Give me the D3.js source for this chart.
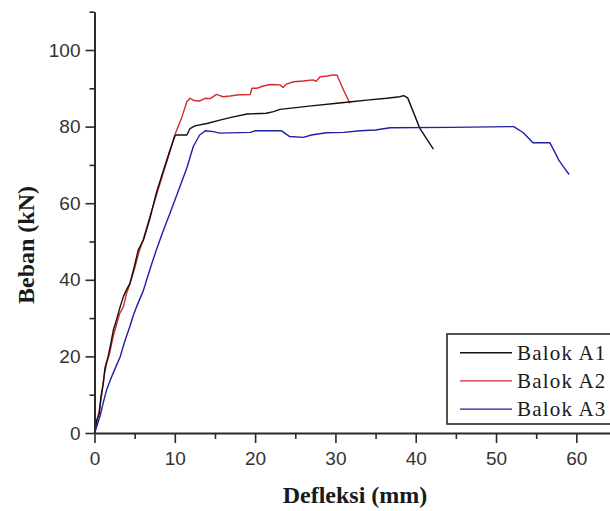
<!DOCTYPE html>
<html>
<head>
<meta charset="utf-8">
<script src="https://cdn.jsdelivr.net/npm/d3@7"></script>
<style>
  html, body { margin: 0; padding: 0; background: #fff; }
  svg { display: block; }
</style>
</head>
<body>
<svg id="chart" width="610" height="511"></svg>
<script>
// load-deflection curves: [deflection mm, load kN]
const balokA1 = [
  [0, 0], [0.3, 3.5], [0.6, 5], [0.8, 9.5], [1.1, 13], [1.3, 17], [1.7, 20], [2.0, 23],
  [2.35, 26.9], [2.8, 30], [3.2, 33], [3.6, 35.6], [4.0, 37.5], [4.4, 39], [4.9, 43],
  [5.45, 47.8], [6.1, 50.4], [6.9, 56], [7.7, 62.7], [8.5, 68], [9.4, 73.9], [10.0, 77.5],
  [10.2, 77.8], [11.5, 77.8], [11.9, 79.5], [12.5, 80.2], [14, 80.8], [15.6, 81.7], [17, 82.4],
  [19, 83.3], [21.4, 83.5], [22.3, 83.9], [23.1, 84.5], [24.8, 84.9], [27, 85.4], [30.2, 86.1],
  [32, 86.5], [33.9, 86.9], [36.4, 87.4], [38.0, 87.8], [38.5, 88.1], [39.0, 87.5],
  [40.5, 79.6], [41.3, 77], [42.2, 74.1]
];
const balokA2 = [
  [0, 0], [0.3, 3], [0.6, 6], [0.9, 10], [1.2, 15], [1.5, 18], [1.9, 21], [2.3, 25], [2.7, 28],
  [3.1, 31], [3.6, 33], [4.0, 36.5], [4.5, 39.5], [5.0, 43], [5.5, 47], [6.1, 50.8], [6.9, 56.5],
  [7.7, 62], [8.5, 67.5], [9.4, 73.5], [10.0, 77.8], [10.9, 82.6], [11.5, 86.5], [11.9, 87.4],
  [12.4, 86.8], [13.1, 86.7], [13.8, 87.4], [14.4, 87.3], [15.2, 88.4], [16.0, 87.8], [16.9, 88.0],
  [18, 88.3], [19.4, 88.4], [19.6, 90.0], [20.2, 90.0], [21.0, 90.6], [21.9, 91.0], [23.1, 90.9],
  [23.5, 90.2], [23.9, 91.1], [24.8, 91.7], [26, 91.9], [27.2, 92.2], [27.6, 91.8], [28.1, 93.0],
  [29.0, 93.2], [29.7, 93.5], [30.2, 93.4], [31.0, 89.6], [31.8, 86.1]
];
const balokA3 = [
  [0, 0], [0.27, 1.6], [0.7, 4.5], [1.1, 8], [1.5, 11.2], [2.0, 14], [2.6, 17], [3.2, 19.9],
  [3.7, 23.5], [4.4, 27.8], [4.8, 30.5], [5.25, 33], [6.1, 37.3], [6.5, 40], [7.1, 44], [7.7, 47.8],
  [8.5, 52.5], [9.4, 57.4], [10.4, 63], [11.5, 69.2], [12.3, 74.8], [13.1, 77.8], [13.8, 78.9],
  [14.8, 78.7], [15.6, 78.3], [19.4, 78.5], [20, 78.9], [23.3, 78.9], [24.3, 77.4], [26, 77.2],
  [27, 77.8], [28.9, 78.4], [31, 78.5], [33.1, 78.9], [35, 79.1], [36.8, 79.7], [44.3, 79.8],
  [52.2, 80.0], [53.4, 78.4], [54.6, 75.8], [56.7, 75.8], [57.3, 73.4], [57.8, 71.3],
  [58.4, 69.5], [59.1, 67.5]
];

const seriesNames = ["Balok A1", "Balok A2", "Balok A3"];
const seriesColors = ["#111111", "#d42a2a", "#1f1fa8"];
const xTicks = [0, 10, 20, 30, 40, 50, 60];
const xMinor = [5, 15, 25, 35, 45, 55, 65];
const yTicks = [0, 20, 40, 60, 80, 100];
const yMinor = [10, 30, 50, 70, 90, 110];

const svg = d3.select("#chart");

const x = d3.scaleLinear().domain([0, 65]).range([94.5, 616.5]);
const y = d3.scaleLinear().domain([0, 110]).range([433, 11.7]);

const axisColor = "#2a2a2a";
const tickFont = "'Liberation Sans', Arial, sans-serif";
const serif = "'Liberation Serif', 'Times New Roman', serif";

// data lines (red under black, blue on top)
const line = d3.line().x(d => x(d[0])).y(d => y(d[1]));
const drawOrder = [1, 0, 2];
const allSeries = [balokA1, balokA2, balokA3];
drawOrder.forEach(i => {
  svg.append("path")
    .datum(allSeries[i])
    .attr("fill", "none")
    .attr("stroke", seriesColors[i])
    .attr("stroke-width", 1.4)
    .attr("stroke-linejoin", "round")
    .attr("d", line);
});

// axes
const xAxis = svg.append("g")
  .attr("transform", `translate(0,${y(0)})`)
  .call(d3.axisBottom(x).tickValues(xTicks).tickSize(10).tickPadding(9).tickSizeOuter(0));
svg.append("g")
  .attr("transform", `translate(0,${y(0)})`)
  .call(d3.axisBottom(x).tickValues(xMinor).tickSize(6).tickFormat("").tickSizeOuter(0))
  .select(".domain").remove();

const yAxis = svg.append("g")
  .attr("transform", `translate(${x(0)},0)`)
  .call(d3.axisLeft(y).tickValues(yTicks).tickSize(9).tickPadding(5).tickSizeOuter(0));
svg.append("g")
  .attr("transform", `translate(${x(0)},0)`)
  .call(d3.axisLeft(y).tickValues(yMinor).tickSize(5).tickFormat("").tickSizeOuter(0))
  .select(".domain").remove();

svg.selectAll(".domain").attr("stroke", axisColor).attr("stroke-width", 2);
svg.selectAll(".tick line").attr("stroke", axisColor).attr("stroke-width", 1.6);
svg.selectAll(".tick text")
  .attr("fill", "#333")
  .style("font-family", tickFont)
  .style("font-size", "19px");

// axis titles
svg.append("text")
  .attr("x", 355).attr("y", 503)
  .attr("text-anchor", "middle")
  .style("font-family", serif).style("font-weight", "bold").style("font-size", "24px")
  .attr("fill", "#1a1a1a")
  .text("Defleksi (mm)");

svg.append("text")
  .attr("transform", "translate(34,245) rotate(-90)")
  .attr("text-anchor", "middle")
  .style("font-family", serif).style("font-weight", "bold").style("font-size", "24px")
  .attr("fill", "#1a1a1a")
  .text("Beban (kN)");

// legend
const legend = svg.append("g");
legend.append("rect")
  .attr("x", 447).attr("y", 334).attr("width", 180).attr("height", 90)
  .attr("fill", "#fff").attr("stroke", axisColor).attr("stroke-width", 1.6);

seriesNames.forEach((name, i) => {
  const ly = 352.7 + i * 28.2;
  legend.append("line")
    .attr("x1", 460).attr("x2", 512).attr("y1", ly).attr("y2", ly)
    .attr("stroke", seriesColors[i]).attr("stroke-width", 1.4);
  legend.append("text")
    .attr("x", 517).attr("y", ly + 7)
    .style("font-family", serif).style("font-size", "21px").style("letter-spacing", "1.2px")
    .attr("fill", "#1a1a1a")
    .text(name);
});
</script>
</body>
</html>
